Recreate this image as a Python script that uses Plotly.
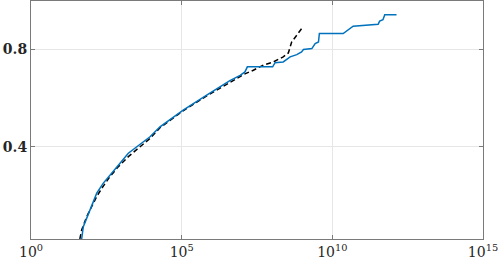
import plotly.graph_objects as go

# Blue (solid) curve: log10(x), y
blue_logx = [1.68, 1.736, 1.849, 2.015, 2.181, 2.40, 2.678, 2.954, 3.229, 3.508, 3.95, 4.28, 5.05, 5.83, 6.60,
             6.94, 7.10, 7.18, 8.02, 8.10, 8.37, 8.60, 8.82, 8.98, 9.04, 9.32, 9.43, 9.54, 9.57, 10.36, 10.52,
             10.69, 11.52, 11.57, 11.68, 11.74, 12.13]
blue_y = [0.02, 0.071, 0.106, 0.161, 0.209, 0.250, 0.293, 0.332, 0.373, 0.40, 0.441, 0.482, 0.551, 0.612, 0.672,
          0.694, 0.708, 0.729, 0.729, 0.746, 0.749, 0.770, 0.779, 0.790, 0.80, 0.804, 0.825, 0.831, 0.866, 0.866, 0.879,
          0.896, 0.904, 0.917, 0.923, 0.943, 0.943]

# Black (dashed) curve
black_logx = [1.62, 1.683, 1.849, 1.98, 2.18, 2.35, 2.62, 2.90, 3.23, 3.62, 3.95, 4.28, 5.05, 5.83, 6.60, 7.10,
              7.38, 7.71, 8.04, 8.37, 8.54, 8.65, 8.98]
black_y = [0.02, 0.058, 0.112, 0.147, 0.195, 0.229, 0.277, 0.318, 0.359, 0.40, 0.434, 0.478, 0.548, 0.609, 0.666,
           0.700, 0.715, 0.736, 0.749, 0.770, 0.786, 0.831, 0.886]

xtick_vals = [1, 1e5, 1e10, 1e15]
xtick_text = ["10<sup>0</sup>", "10<sup>5</sup>", "10<sup>10</sup>", "10<sup>15</sup>"]
ytick_vals = [0.4, 0.8]
ytick_text = ["<b>0.4</b>", "<b>0.8</b>"]

fig = go.Figure()
fig.add_trace(go.Scatter(x=[10 ** v for v in black_logx], y=black_y, mode="lines",
                         line=dict(color="black", width=1.5, dash="5px,3px")))
fig.add_trace(go.Scatter(x=[10 ** v for v in blue_logx], y=blue_y, mode="lines",
                         line=dict(color="#0072BD", width=1.5)))

font = dict(family="DejaVu Serif", size=14, color="#262626")
fig.update_layout(
    width=498, height=263,
    margin=dict(l=31, r=15, t=1, b=24, autoexpand=False),
    plot_bgcolor="white", paper_bgcolor="white",
    showlegend=False,
    font=font,
)
fig.update_xaxes(type="log", range=[-0.0005, 15.0005], tickvals=xtick_vals, ticktext=xtick_text,
                 automargin=False, ticklabeloverflow="allow",
                 showgrid=True, gridcolor="#e6e6e6", gridwidth=1,
                 showline=True, linecolor="#7a7a7a", linewidth=1, mirror="ticks",
                 ticks="inside", ticklen=4, tickcolor="#7a7a7a", zeroline=False)
fig.update_yaxes(range=[0.02, 1.0], tickvals=ytick_vals, ticktext=ytick_text,
                 automargin=False, ticklabeloverflow="allow",
                 showgrid=True, gridcolor="#e6e6e6", gridwidth=1,
                 showline=True, linecolor="#7a7a7a", linewidth=1, mirror="ticks",
                 ticks="inside", ticklen=4, tickcolor="#7a7a7a", zeroline=False)

fig.write_html("out.html", config={"displayModeBar": False},
               post_script="document.body.style.margin='0';document.body.style.overflow='hidden';")
